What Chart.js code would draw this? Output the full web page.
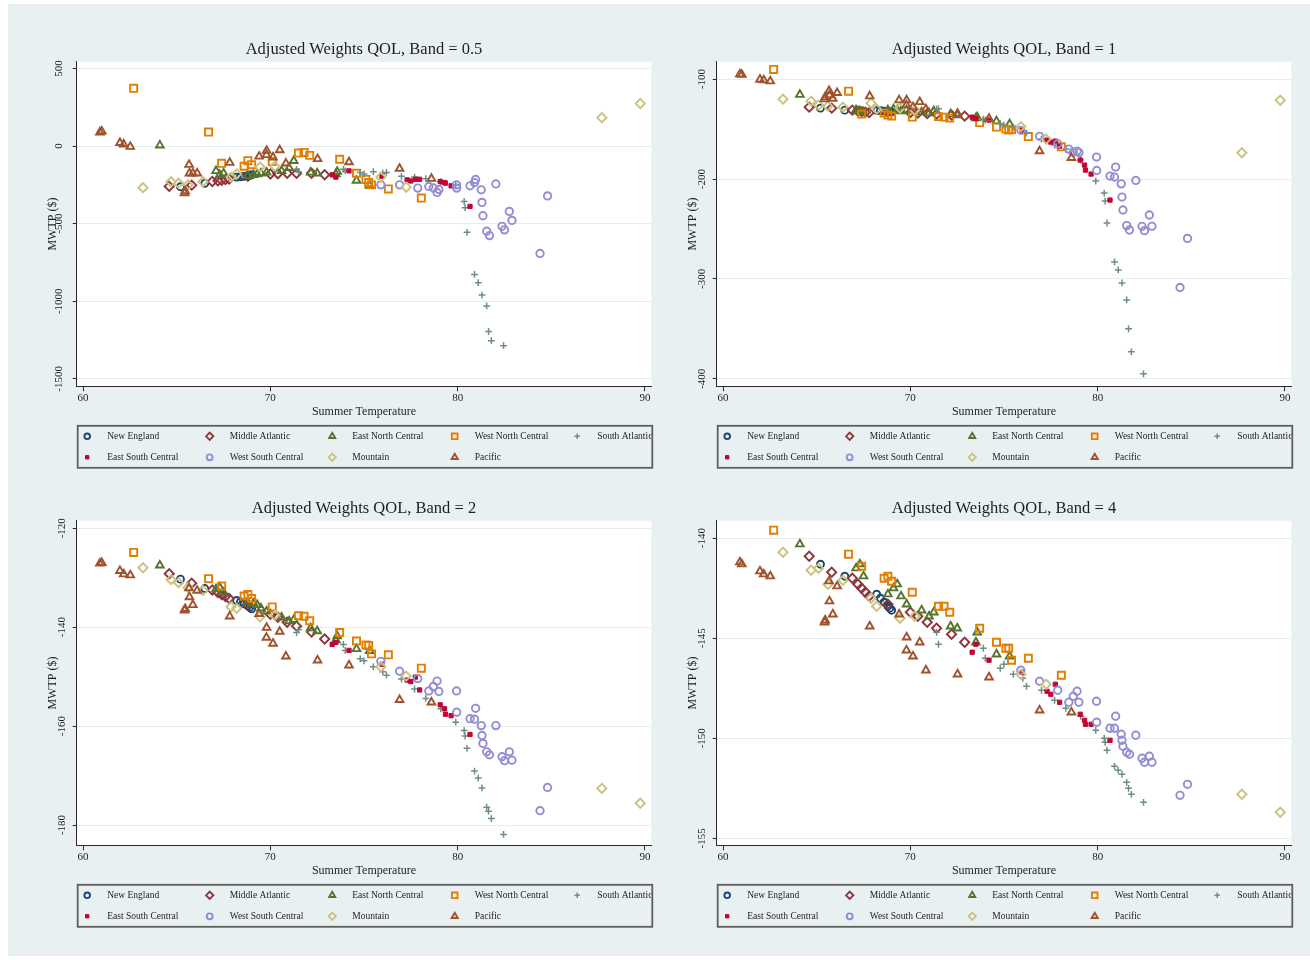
<!DOCTYPE html>
<html>
<head>
<meta charset="utf-8">
<title>Adjusted Weights QOL</title>
<script src="https://cdn.jsdelivr.net/npm/chart.js@4.4.1/dist/chart.umd.min.js"></script>
<style>
  html, body { margin: 0; padding: 0; background: #ffffff; }
  #bg { position: absolute; left: 8px; top: 4px; width: 1302px; height: 952px; background: #e9f0f2; }
  canvas { position: absolute; }
</style>
</head>
<body>
<div id="bg"></div>
<canvas id="p05" width="650" height="480" style="left:10px;top:0px"></canvas>
<canvas id="p1" width="650" height="480" style="left:650px;top:0px"></canvas>
<canvas id="p2" width="650" height="480" style="left:10px;top:459px"></canvas>
<canvas id="p4" width="650" height="480" style="left:650px;top:459px"></canvas>
<script>
// regions (Census divisions) and marker look
const regionNames = ['New England', 'Middle Atlantic', 'East North Central', 'West North Central', 'South Atlantic',
                     'East South Central', 'West South Central', 'Mountain', 'Pacific'];
const regionColors = ['#1a476f', '#90353b', '#55752f', '#e37e00', '#6e8e84', '#c10534', '#938dd2', '#cac27e', '#a0522d'];
const regionShapes = ['circle', 'rectRot', 'triangle', 'rect', 'cross', 'rect', 'circle', 'rectRot', 'triangle'];
const regionRadius = [3.5, 4.6, 4.4, 5.0, 3.4, 3.0, 3.7, 4.6, 4.4];
const regionFilled = [false, false, false, false, false, true, false, false, false];

const xTickValues = [60, 70, 80, 90];

// summer temperature of each city, by region
const neTemp = [65.2, 66.5, 68.2, 68.4, 68.6, 68.8, 68.9, 69.0];
const maTemp = [64.6, 65.8, 66.9, 67.2, 67.4, 67.6, 67.8, 68.8, 70.0, 70.4, 70.9, 71.4, 72.2, 72.9];
const encTemp = [64.1, 67.1, 67.3, 67.5, 68.8, 69.1, 69.3, 69.5, 69.8, 70.6, 71.0, 71.25, 72.15, 72.5, 73.5, 73.57, 74.6, 75.3];
const wncTemp = [62.7, 66.7, 67.4, 68.6, 68.8, 69.0, 70.1, 71.5, 71.8, 72.1, 73.7, 74.6, 75.1, 75.25, 75.4, 76.3, 78.06];
const saTemp = [71.4, 71.5, 73.9, 74.0, 74.8, 75.0, 75.5, 76.0, 76.2, 77.0, 77.7, 78.3, 79.1, 79.9, 80.35, 80.4, 80.5, 80.9,
                81.1, 81.3, 81.55, 81.65, 81.8, 82.45];
const escTemp = [73.3, 73.5, 74.2, 75.96, 77.3, 77.5, 77.74, 77.97, 79.07, 79.3, 79.35, 79.65, 80.66];
const wscTemp = [75.9, 76.9, 77.87, 78.46, 78.7, 78.9, 79.0, 79.94, 79.95, 80.96, 80.66, 80.9, 81.26, 82.04, 81.3, 81.35,
                 81.55, 81.7, 82.37, 82.5, 82.76, 82.9, 84.4, 84.8];
const mtnTemp = [63.2, 64.7, 65.1, 65.6, 66.4, 67.9, 68.2, 69.45, 70.24, 75.9, 77.25, 87.7, 89.75];
const pacTemp = [60.9, 61.0, 61.97, 62.17, 62.52, 65.42, 65.45, 65.66, 65.68, 65.86, 66.09, 67.83, 69.4, 69.8, 69.79, 70.14,
                 70.5, 70.83, 72.52, 74.2, 76.9, 78.6];

// MWTP ($), band = 0.5
const neB05 = [-262, -240, -200, -198, -195, -190, -188, -185];
const maB05 = [-260, -252, -228, -224, -220, -216, -212, -195, -180, -178, -175, -176, -175, -185];
const encB05 = [5, -160, -185, -175, -190, -185, -180, -175, -170, -160, -140, -95, -170, -175, -180, -165, -222, -254];
const wncB05 = [372, 90, -111, -130, -94, -120, -100, -45, -41, -60, -85, -175, -215, -235, -250, -276, -335];
const saB05 = [-150, -165, -150, -160, -170, -180, -165, -175, -170, -195, -200, -210, -230, -250, -357, -397, -556, -827,
               -880, -960, -1030, -1195, -1254, -1286];
const escB05 = [-185, -200, -160, -195, -218, -225, -214, -214, -229, -235, -239, -256, -389];
const wscB05 = [-250, -250, -271, -260, -270, -299, -280, -250, -271, -215, -256, -235, -282, -244, -363, -449, -549, -577,
                -517, -540, -421, -479, -692, -321];
const mtnB05 = [-268, -230, -240, -250, -230, -200, -180, -135, -130, -200, -265, 183, 274];
const pacB05 = [88, 95, 21, 11, -4, -303, -290, -120, -175, -175, -175, -107, -67, -30, -57, -72, -26, -111, -83, -103, -145, -210];

// MWTP ($), band = 1
const neB1 = [-129, -131, -131.3, -131.5, -132, -132.3, -132.5, -132.8];
const maB1 = [-128, -129, -131, -132, -132.5, -133, -133.5, -133, -133.5, -134, -134.5, -135, -136, -137];
const encB1 = [-115.5, -131, -132, -133, -131, -130, -131, -132, -131, -133, -134, -132, -135, -136, -139, -138, -142, -145];
const wncB1 = [-90.2, -112, -135, -134, -136, -137, -138, -137.5, -138, -139, -143.5, -148, -150, -151, -150.5, -157.5, -167.7];
const saB1 = [-130, -129.5, -140, -141, -144.5, -146, -148, -152, -154, -160, -166, -170, -181, -202, -214, -222, -244, -283,
              -291, -304, -321, -350, -373, -395];
const escB1 = [-138, -139.5, -141, -151, -161, -163, -162, -167, -181, -186, -191, -195, -221];
const wscB1 = [-151.2, -157.2, -164.6, -170, -173, -172, -173.5, -178, -191.4, -188, -197, -198, -204.8, -201.4, -218, -231,
               -246.6, -251, -247.3, -251.7, -236, -247.3, -308.6, -259.4];
const mtnB1 = [-120, -122, -126, -127, -128, -124, -130, -129, -131, -147.5, -160, -173.7, -121.1];
const pacB1 = [-95, -95.5, -100.3, -101, -102, -120, -118, -111.7, -116, -119.4, -113.7, -117, -121, -121, -126, -127.8,
               -122.8, -130, -134.5, -139.5, -172, -178.7];

// MWTP ($), band = 2
const neB2 = [-130.3, -132.2, -134.6, -134.9, -135.3, -135.7, -136.0, -136.3];
const maB2 = [-129.2, -131.1, -132.5, -133.0, -133.4, -133.8, -134.2, -135.4, -137.4, -138.0, -139.0, -139.8, -141.0, -142.4];
const encB2 = [-127.5, -132.3, -132.0, -133.0, -135.0, -135.2, -135.5, -136.2, -136.8, -138.0, -138.8, -138.5, -140.2, -140.8,
               -142.6, -141.8, -144.4, -144.8];
const wncB2 = [-124.9, -130.2, -131.7, -133.7, -133.4, -134.2, -135.9, -137.7, -137.8, -138.7, -141.1, -142.8, -143.6, -143.7,
               -145.4, -145.6, -148.3];
const saB2 = [-141.1, -140.5, -143.5, -144.7, -146.4, -146.8, -148.0, -149.0, -149.7, -150.5, -152.5, -154.4, -156.5, -159.2,
              -160.9, -162.0, -164.5, -169.1, -170.5, -172.5, -176.4, -177.2, -178.7, -181.9];
const escB2 = [-143.5, -143.1, -144.7, -147.5, -150.7, -151.0, -150.1, -152.7, -155.7, -156.5, -157.6, -157.9, -161.7];
const wscB2 = [-146.9, -148.9, -150.4, -152.9, -152.0, -150.9, -153.0, -152.9, -157.2, -156.4, -158.5, -158.6, -159.9, -159.9,
               -161.9, -163.5, -165.2, -165.8, -166.2, -167.0, -165.2, -166.9, -177.1, -172.4];
const mtnB2 = [-128, -130.4, -131, -132, -132.6, -135.9, -136.2, -137.9, -137.6, -148, -149.9, -172.6, -175.6];
const pacB2 = [-127.1, -127.0, -128.6, -129.3, -129.5, -136.6, -136.3, -132.1, -133.9, -135.5, -132.6, -137.8, -137.3, -140.1,
               -142.1, -143.3, -140.9, -145.9, -146.7, -147.7, -154.7, -155.2];

// MWTP ($), band = 4
const neB4 = [-141.3, -141.9, -142.8, -143.0, -143.2, -143.4, -143.5, -143.6];
const maB4 = [-140.9, -141.7, -142.0, -142.3, -142.5, -142.7, -142.9, -143.3, -143.7, -143.9, -144.2, -144.5, -144.8, -145.2];
const encB4 = [-140.3, -141.5, -141.3, -141.9, -142.8, -142.5, -142.3, -142.9, -143.3, -143.6, -143.9, -143.7, -144.4, -144.5,
               -145.2, -144.7, -145.8, -145.9];
const wncB4 = [-139.6, -140.8, -141.4, -142.0, -141.9, -142.15, -142.7, -143.4, -143.4, -143.7, -144.5, -145.2, -145.5, -145.5,
               -146.1, -146.0, -146.85];
const saB4 = [-144.7, -145.3, -145.5, -146.0, -146.5, -146.3, -146.8, -147.0, -147.4, -147.6, -148.1, -148.5, -148.9, -149.6,
              -150.0, -150.2, -150.6, -151.4, -151.6, -151.8, -152.2, -152.5, -152.8, -153.2];
const escB4 = [-145.7, -145.3, -146.1, -146.7, -147.65, -147.8, -147.3, -148.2, -148.8, -149.1, -149.3, -149.3, -150.1];
const wscB4 = [-146.6, -147.15, -147.6, -148.2, -147.9, -147.65, -148.2, -148.15, -149.2, -148.9, -149.5, -149.5, -149.8,
               -149.85, -150.1, -150.4, -150.7, -150.8, -151.0, -151.2, -150.9, -151.2, -152.85, -152.3];
const mtnB4 = [-140.7, -141.6, -141.5, -142.3, -142.1, -143.0, -143.4, -144.0, -143.9, -146.8, -147.3, -152.8, -153.7];
const pacB4 = [-141.2, -141.3, -141.65, -141.8, -141.9, -144.2, -144.1, -142.15, -143.15, -143.8, -142.4, -144.4, -143.8,
               -144.95, -145.6, -145.9, -145.2, -146.6, -146.8, -146.95, -148.6, -148.7];

// y tick labels of each panel
const yTicksB05 = [-1500, -1000, -500, 0, 500];
const yTicksB1 = [-400, -300, -200, -100];
const yTicksB2 = [-180, -160, -140, -120];
const yTicksB4 = [-155, -150, -145, -140];

const regionTemps = [neTemp, maTemp, encTemp, wncTemp, saTemp, escTemp, wscTemp, mtnTemp, pacTemp];

Chart.defaults.font.family = '"Liberation Serif", "DejaVu Serif", serif';
Chart.defaults.color = '#1e1e1e';

const FONT = '"Liberation Serif", "DejaVu Serif", serif';
const AXIS_COL = '#2a2a2a';

// white plot region
const plotBackground = {
  id: 'plotBackground',
  beforeDraw(chart) {
    const { ctx, chartArea: a } = chart;
    ctx.save();
    ctx.fillStyle = '#ffffff';
    ctx.fillRect(a.left, a.top, a.right - a.left, a.bottom - a.top);
    ctx.restore();
  }
};

// Stata-style boxed legend, 5 columns, clipped at the box
const boxedLegend = {
  id: 'boxedLegend',
  afterDraw(chart) {
    const { ctx, chartArea: a } = chart;
    const left = a.left + 1;
    const top = a.bottom + 39.5;
    const width = a.right - a.left;
    const height = 42;
    ctx.save();
    ctx.strokeStyle = '#5e5e5e';
    ctx.lineWidth = 1.8;
    ctx.strokeRect(left, top, width, height);
    ctx.beginPath();
    ctx.rect(left + 1, top + 1, width - 2, height - 2);
    ctx.clip();
    ctx.font = '9.5px ' + FONT;
    ctx.textBaseline = 'middle';
    ctx.textAlign = 'left';
    chart.data.datasets.forEach((ds, i) => {
      const col = i % 5;
      const row = Math.floor(i / 5);
      const mx = left + 9.5 + col * 122.5;
      const my = top + 10.5 + row * 21;
      ctx.lineWidth = ds.pointBorderWidth;
      ctx.strokeStyle = ds.pointBorderColor;
      ctx.fillStyle = ds.pointBackgroundColor;
      Chart.helpers.drawPoint(ctx, {
        pointStyle: ds.pointStyle, radius: ds.pointRadius * 0.8,
        borderWidth: ds.pointBorderWidth, rotation: 0
      }, mx, my);
      ctx.fillStyle = '#1e1e1e';
      ctx.fillText(ds.label, mx + 20, my + 0.5);
    });
    ctx.restore();
  }
};

function makePanel(canvasId, title, series, yMin, yMax, yTicks) {
  const datasets = regionNames.map((name, i) => ({
    label: name,
    data: regionTemps[i].map((t, k) => ({ x: t, y: series[i][k] })),
    pointStyle: regionShapes[i],
    pointRadius: regionRadius[i],
    pointHoverRadius: regionRadius[i],
    pointBorderWidth: regionShapes[i] === 'cross' ? 1.5 : (regionFilled[i] ? 1 : 1.9),
    pointBorderColor: regionColors[i],
    pointBackgroundColor: regionFilled[i] ? regionColors[i] : 'rgba(0,0,0,0)',
    showLine: false,
    order: regionNames.length - 1 - i
  }));

  new Chart(document.getElementById(canvasId), {
    type: 'scatter',
    data: { datasets: datasets },
    plugins: [plotBackground, boxedLegend],
    options: {
      responsive: false,
      animation: false,
      events: [],
      layout: { padding: { left: 35.5, right: 8.7, top: 40, bottom: 61.1 } },
      plugins: {
        legend: { display: false },
        tooltip: { enabled: false },
        title: {
          display: true,
          text: title,
          fullSize: false,
          color: '#1e1e1e',
          font: { family: FONT, size: 16.5, weight: 'normal' },
          padding: { top: 0, bottom: 2 }
        }
      },
      scales: {
        x: {
          type: 'linear',
          min: 59.66,
          max: 90.34,
          afterBuildTicks: s => { s.ticks = xTickValues.map(v => ({ value: v })); },
          ticks: {
            autoSkip: false, maxRotation: 0, padding: 0, color: '#1e1e1e',
            font: { family: FONT, size: 11 },
            callback: v => String(v)
          },
          grid: { drawOnChartArea: false, drawTicks: true, tickLength: 5, tickColor: AXIS_COL },
          border: { display: true, color: AXIS_COL, width: 1 },
          title: {
            display: true, text: 'Summer Temperature', color: '#1e1e1e',
            font: { family: FONT, size: 12 }, padding: 0
          }
        },
        y: {
          type: 'linear',
          min: yMin,
          max: yMax,
          afterBuildTicks: s => { s.ticks = yTicks.map(v => ({ value: v })); },
          afterFit: s => { s.width = 31.2; },
          ticks: {
            autoSkip: false, minRotation: 90, maxRotation: 90, crossAlign: 'center', padding: 1,
            color: '#1e1e1e', font: { family: FONT, size: 11 },
            callback: v => String(v)
          },
          grid: { color: '#e6edef', lineWidth: 1, drawTicks: true, tickLength: 4, tickColor: AXIS_COL },
          border: { display: true, color: AXIS_COL, width: 1 },
          title: {
            display: true, text: 'MWTP ($)', color: '#1e1e1e',
            font: { family: FONT, size: 12 }, padding: 0
          }
        }
      }
    }
  });
}

makePanel('p05', 'Adjusted Weights QOL, Band = 0.5',
  [neB05, maB05, encB05, wncB05, saB05, escB05, wscB05, mtnB05, pacB05], -1548, 543, yTicksB05);
makePanel('p1', 'Adjusted Weights QOL, Band = 1',
  [neB1, maB1, encB1, wncB1, saB1, escB1, wscB1, mtnB1, pacB1], -407.5, -82.6, yTicksB1);
makePanel('p2', 'Adjusted Weights QOL, Band = 2',
  [neB2, maB2, encB2, wncB2, saB2, escB2, wscB2, mtnB2, pacB2], -184.1, -118.5, yTicksB2);
makePanel('p4', 'Adjusted Weights QOL, Band = 4',
  [neB4, maB4, encB4, wncB4, saB4, escB4, wscB4, mtnB4, pacB4], -155.35, -139.13, yTicksB4);
</script>
</body>
</html>
